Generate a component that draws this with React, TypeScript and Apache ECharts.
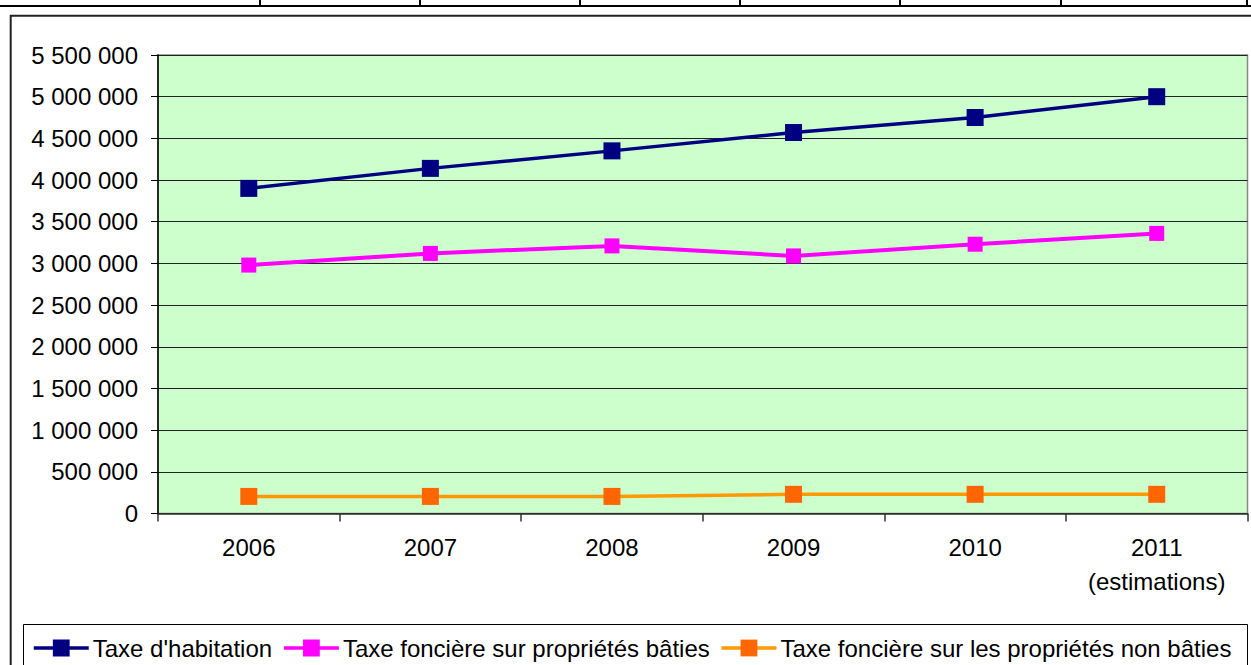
import React, { useEffect, useRef } from "react";
import * as echarts from "echarts";

const years = ["2006", "2007", "2008", "2009", "2010", "2011"];
const yearLabels = ["2006", "2007", "2008", "2009", "2010", "2011\n(estimations)"];
const seriesNames = [
  "Taxe d'habitation",
  "Taxe foncière sur propriétés bâties",
  "Taxe foncière sur les propriétés non bâties",
];
const habitation = [3900000, 4140000, 4350000, 4570000, 4750000, 5000000];
const bati = [2980000, 3120000, 3210000, 3090000, 3230000, 3360000];
const nonBati = [205000, 205000, 205000, 230000, 230000, 230000];
const yMin = 0;
const yMax = 5500000;
const yStep = 500000;

const FONT = "'Liberation Sans', Arial, sans-serif";
const FS = 24;

function fmt(v: number): string {
  return String(Math.round(v)).replace(/\B(?=(\d{3})+(?!\d))/g, " ");
}

export default function App() {
  const ref = useRef<HTMLDivElement>(null);

  useEffect(() => {
    if (!ref.current) return;
    const chart = echarts.init(ref.current, undefined, { renderer: "svg" });
    const tableXs = [260, 420, 580, 740, 900, 1061, 1247];
    const graphic: any[] = [
      {
        type: "line",
        shape: { x1: 0, y1: 6, x2: 1251, y2: 6 },
        style: { stroke: "#000", lineWidth: 2 },
        z: 0,
      },
      ...tableXs.map((x) => ({
        type: "line",
        shape: { x1: x, y1: 0, x2: x, y2: 6 },
        style: { stroke: "#000", lineWidth: 2 },
        z: 0,
      })),
      {
        type: "rect",
        shape: { x: 10.7, y: 15.7, width: 1400, height: 800 },
        style: { fill: "none", stroke: "#222", lineWidth: 2 },
        z: 0,
      },
      {
        type: "rect",
        shape: { x: 23.5, y: 624.5, width: 1224, height: 100 },
        style: { fill: "#fff", stroke: "#000", lineWidth: 1 },
        z: 0,
      },
    ];

    const option: any = {
      animation: false,
      backgroundColor: "#fff",
      textStyle: { fontFamily: FONT },
      graphic,
      grid: {
        left: 158,
        top: 55,
        right: 3.5,
        bottom: 151.5,
        show: true,
        backgroundColor: "#CCFFCC",
        borderColor: "#888",
        borderWidth: 1.5,
      },
      legend: {
        left: 32,
        top: 636,
        itemWidth: 55,
        itemHeight: 21,
        itemGap: 10,
        padding: 0,
        lineStyle: { width: 3.5 },
        textStyle: {
          fontSize: FS,
          color: "#000",
          fontFamily: FONT,
          padding: [0, 0, 7, -1],
        },
        data: seriesNames,
      },
      xAxis: {
        type: "category",
        data: years,
        boundaryGap: true,
        axisLine: { show: true, lineStyle: { color: "#333", width: 1.5 } },
        axisTick: { show: true, length: 8, lineStyle: { color: "#333", width: 1.5 } },
        axisLabel: {
          fontSize: FS,
          color: "#000",
          fontFamily: FONT,
          margin: 17,
          lineHeight: 34,
          formatter: (_v: string, i: number) => yearLabels[i],
        },
        splitLine: { show: false },
      },
      yAxis: {
        type: "value",
        min: yMin,
        max: yMax,
        interval: yStep,
        axisLine: { show: true, lineStyle: { color: "#000", width: 1.5 } },
        axisTick: { show: true, length: 7, lineStyle: { color: "#000", width: 1 } },
        axisLabel: {
          fontSize: FS,
          color: "#000",
          fontFamily: FONT,
          margin: 20,
          formatter: (v: number) => fmt(v),
        },
        splitLine: { show: true, lineStyle: { color: "#222", width: 1 } },
      },
      series: [
        {
          name: seriesNames[0],
          type: "line",
          data: habitation,
          symbol: "rect",
          symbolSize: 17,
          lineStyle: { color: "#000080", width: 3.5 },
          itemStyle: { color: "#000080" },
          z: 3,
        },
        {
          name: seriesNames[1],
          type: "line",
          data: bati,
          symbol: "rect",
          symbolSize: 15,
          lineStyle: { color: "#FF00FF", width: 4 },
          itemStyle: { color: "#FF00FF" },
          z: 3,
        },
        {
          name: seriesNames[2],
          type: "line",
          data: nonBati,
          symbol: "rect",
          symbolSize: 17,
          lineStyle: { color: "#FF9900", width: 3.5 },
          itemStyle: { color: "#FF6600" },
          z: 3,
        },
      ],
    };
    chart.setOption(option);
    return () => chart.dispose();
  }, []);

  return (
    <div
      ref={ref}
      style={{ position: "absolute", left: 0, top: 0, width: 1251, height: 665 }}
    />
  );
}
